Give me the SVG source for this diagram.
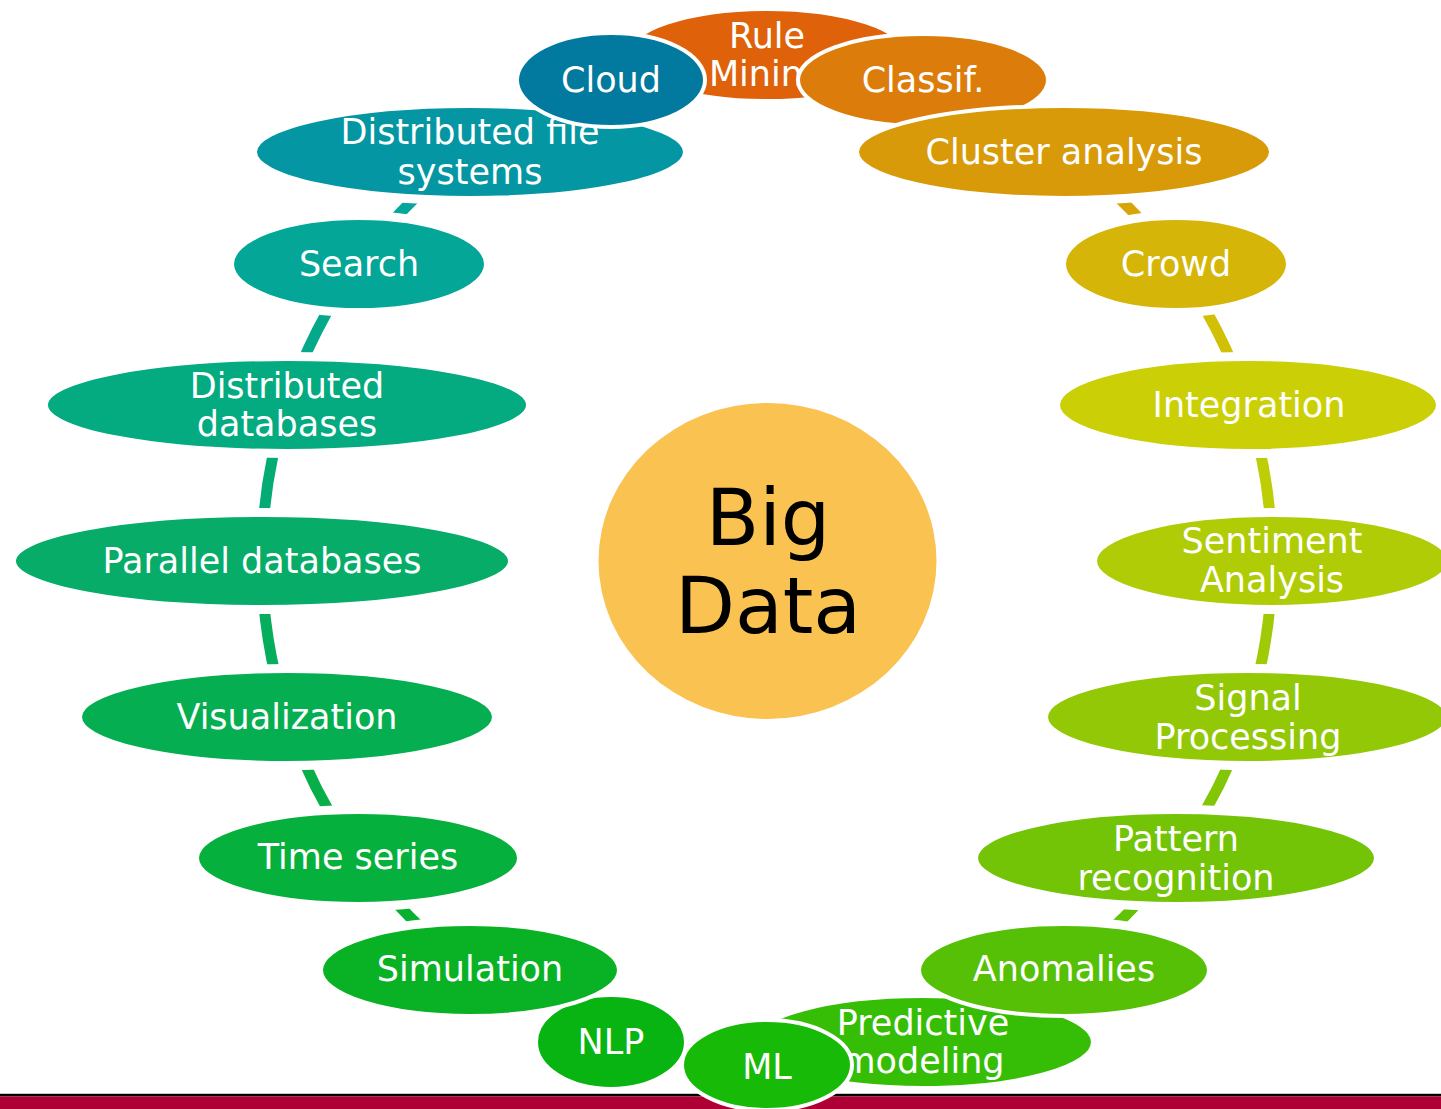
<svg xmlns="http://www.w3.org/2000/svg" width="1441" height="1109" viewBox="0 0 1441 1109">
  <style>
    .node ellipse { stroke: #FFFFFF; stroke-width: 4; }
    .node text { font-family: "DejaVu Sans", Verdana, sans-serif; font-size: 35px; fill: #FFFFFF; text-anchor: middle; }
    .hub text { font-family: "DejaVu Sans", Verdana, sans-serif; font-size: 78px; fill: #000000; text-anchor: middle; }
    .arc { fill: none; stroke-width: 11; }
    .cut { fill: #000000; stroke: #000000; stroke-width: 14; }
  </style>
  <defs>
    <!-- keeps the ring segments clear of every node outline -->
    <mask id="ringMask" maskUnits="userSpaceOnUse" x="0" y="0" width="1441" height="1109">
      <rect x="0" y="0" width="1441" height="1109" fill="#FFFFFF"/>
      <ellipse class="cut" cx="767" cy="55" rx="140" ry="46"/>
      <ellipse class="cut" cx="923" cy="80" rx="125" ry="46"/>
      <ellipse class="cut" cx="1064" cy="152" rx="207" ry="46"/>
      <ellipse class="cut" cx="1176" cy="264" rx="112" ry="46"/>
      <ellipse class="cut" cx="1248" cy="405" rx="190" ry="46"/>
      <ellipse class="cut" cx="1272" cy="561" rx="177" ry="46"/>
      <ellipse class="cut" cx="1247" cy="717" rx="201" ry="46"/>
      <ellipse class="cut" cx="1176" cy="858" rx="200" ry="46"/>
      <ellipse class="cut" cx="1064" cy="970" rx="145" ry="46"/>
      <ellipse class="cut" cx="923" cy="1042" rx="170" ry="46"/>
      <ellipse class="cut" cx="767" cy="1065" rx="85" ry="45"/>
      <ellipse class="cut" cx="611" cy="1042" rx="75" ry="47"/>
      <ellipse class="cut" cx="470" cy="970" rx="149" ry="46"/>
      <ellipse class="cut" cx="358" cy="858" rx="161" ry="46"/>
      <ellipse class="cut" cx="287" cy="717" rx="207" ry="46"/>
      <ellipse class="cut" cx="262" cy="561" rx="248" ry="46"/>
      <ellipse class="cut" cx="287" cy="405" rx="241" ry="46"/>
      <ellipse class="cut" cx="359" cy="264" rx="127" ry="46"/>
      <ellipse class="cut" cx="470" cy="152" rx="215" ry="46"/>
      <ellipse class="cut" cx="611" cy="80" rx="94" ry="47"/>
    </mask>
  </defs>

  <rect x="0" y="0" width="1441" height="1109" fill="#FFFFFF"/>

  <!-- footer band -->
  <g id="footer">
    <rect x="0" y="1093" width="1441" height="1" fill="#C8C8C8"/>
    <rect x="0" y="1094" width="1441" height="2.5" fill="#000000"/>
    <rect x="0" y="1096.5" width="1441" height="12.5" fill="#AE0034"/>
  </g>

  <!-- ring connectors: circle r=505 around (767,560), one arc per neighbour pair -->
  <g id="connectors" mask="url(#ringMask)">
    <path class="arc" stroke="#DE6F0B" d="M767,55 A505,505 0 0 1 923.05,79.72"/>
    <path class="arc" stroke="#DB8A0A" d="M923.05,79.72 A505,505 0 0 1 1063.83,151.44"/>
    <path class="arc" stroke="#D8A509" d="M1063.83,151.44 A505,505 0 0 1 1175.55,263.17"/>
    <path class="arc" stroke="#D2C007" d="M1175.55,263.17 A505,505 0 0 1 1247.28,403.95"/>
    <path class="arc" stroke="#BDCE06" d="M1247.28,403.95 A505,505 0 0 1 1272,560"/>
    <path class="arc" stroke="#A1CA06" d="M1272,560 A505,505 0 0 1 1247.28,716.05"/>
    <path class="arc" stroke="#83C606" d="M1247.28,716.05 A505,505 0 0 1 1175.55,856.83"/>
    <path class="arc" stroke="#64C206" d="M1175.55,856.83 A505,505 0 0 1 1063.83,968.56"/>
    <path class="arc" stroke="#46BF06" d="M1063.83,968.56 A505,505 0 0 1 923.05,1040.28"/>
    <path class="arc" stroke="#27BC07" d="M923.05,1040.28 A505,505 0 0 1 767,1065"/>
    <path class="arc" stroke="#10B70E" d="M767,1065 A505,505 0 0 1 610.95,1040.28"/>
    <path class="arc" stroke="#08B31C" d="M610.95,1040.28 A505,505 0 0 1 470.17,968.56"/>
    <path class="arc" stroke="#07B130" d="M470.17,968.56 A505,505 0 0 1 358.45,856.83"/>
    <path class="arc" stroke="#06AF47" d="M358.45,856.83 A505,505 0 0 1 286.72,716.05"/>
    <path class="arc" stroke="#06AD5D" d="M286.72,716.05 A505,505 0 0 1 262,560"/>
    <path class="arc" stroke="#05AB74" d="M262,560 A505,505 0 0 1 286.72,403.95"/>
    <path class="arc" stroke="#04A98C" d="M286.72,403.95 A505,505 0 0 1 358.45,263.17"/>
    <path class="arc" stroke="#04A79A" d="M358.45,263.17 A505,505 0 0 1 470.17,151.44"/>
    <path class="arc" stroke="#0388A0" d="M470.17,151.44 A505,505 0 0 1 610.95,79.72"/>
    <path class="arc" stroke="#706E56" d="M610.95,79.72 A505,505 0 0 1 767,55"/>
  </g>

  <!-- hub -->
  <g id="big-data" class="hub">
    <ellipse cx="767.5" cy="561" rx="169" ry="158" fill="#F9C251"/>
    <text x="768" y="545">Big</text>
    <text x="768" y="633">Data</text>
  </g>

  <!-- nodes (stacking order chosen so overlaps layer correctly) -->
  <g id="rule-mining" class="node">
    <ellipse cx="767" cy="55" rx="140" ry="46" fill="#DF620B"/>
    <text x="767" y="48">Rule</text>
    <text x="767" y="86">Mining</text>
  </g>
  <g id="predictive-modeling" class="node">
    <ellipse cx="923" cy="1042" rx="170" ry="46" fill="#36BE06"/>
    <text x="923" y="1035">Predictive</text>
    <text x="923" y="1073">modeling</text>
  </g>
  <g id="nlp" class="node">
    <ellipse cx="611" cy="1042" rx="75" ry="47" fill="#08B412"/>
    <text x="611" y="1054">NLP</text>
  </g>
  <g id="distributed-file-systems" class="node">
    <ellipse cx="470" cy="152" rx="215" ry="46" fill="#0496A2"/>
    <text x="470" y="144">Distributed file</text>
    <text x="470" y="184">systems</text>
  </g>
  <g id="classif" class="node">
    <ellipse cx="923" cy="80" rx="125" ry="46" fill="#DC7C0A"/>
    <text x="923" y="92">Classif.</text>
  </g>
  <g id="cluster-analysis" class="node">
    <ellipse cx="1064" cy="152" rx="207" ry="46" fill="#D89A09"/>
    <text x="1064" y="164">Cluster analysis</text>
  </g>
  <g id="crowd" class="node">
    <ellipse cx="1176" cy="264" rx="112" ry="46" fill="#D4B508"/>
    <text x="1176" y="276">Crowd</text>
  </g>
  <g id="integration" class="node">
    <ellipse cx="1248" cy="405" rx="190" ry="46" fill="#CBD006"/>
    <text x="1249" y="417">Integration</text>
  </g>
  <g id="sentiment-analysis" class="node">
    <ellipse cx="1272" cy="561" rx="177" ry="46" fill="#AFCC06"/>
    <text x="1272" y="553">Sentiment</text>
    <text x="1272" y="592">Analysis</text>
  </g>
  <g id="signal-processing" class="node">
    <ellipse cx="1247" cy="717" rx="201" ry="46" fill="#92C806"/>
    <text x="1248" y="710">Signal</text>
    <text x="1248" y="749">Processing</text>
  </g>
  <g id="pattern-recognition" class="node">
    <ellipse cx="1176" cy="858" rx="200" ry="46" fill="#73C406"/>
    <text x="1176" y="851">Pattern</text>
    <text x="1176" y="890">recognition</text>
  </g>
  <g id="anomalies" class="node">
    <ellipse cx="1064" cy="970" rx="145" ry="46" fill="#55C006"/>
    <text x="1064" y="981">Anomalies</text>
  </g>
  <g id="ml" class="node">
    <ellipse cx="767" cy="1065" rx="85" ry="45" fill="#18BA08"/>
    <text x="767" y="1079">ML</text>
  </g>
  <g id="simulation" class="node">
    <ellipse cx="470" cy="970" rx="149" ry="46" fill="#08B224"/>
    <text x="470" y="981">Simulation</text>
  </g>
  <g id="time-series" class="node">
    <ellipse cx="358" cy="858" rx="161" ry="46" fill="#06B03C"/>
    <text x="358" y="869">Time series</text>
  </g>
  <g id="visualization" class="node">
    <ellipse cx="287" cy="717" rx="207" ry="46" fill="#06AE52"/>
    <text x="287" y="729">Visualization</text>
  </g>
  <g id="parallel-databases" class="node">
    <ellipse cx="262" cy="561" rx="248" ry="46" fill="#06AC68"/>
    <text x="262" y="573">Parallel databases</text>
  </g>
  <g id="distributed-databases" class="node">
    <ellipse cx="287" cy="405" rx="241" ry="46" fill="#04AA80"/>
    <text x="287" y="398">Distributed</text>
    <text x="287" y="436">databases</text>
  </g>
  <g id="search" class="node">
    <ellipse cx="359" cy="264" rx="127" ry="46" fill="#04A698"/>
    <text x="359" y="276">Search</text>
  </g>
  <g id="cloud" class="node">
    <ellipse cx="611" cy="80" rx="94" ry="47" fill="#02799E"/>
    <text x="611" y="92">Cloud</text>
  </g>
</svg>
